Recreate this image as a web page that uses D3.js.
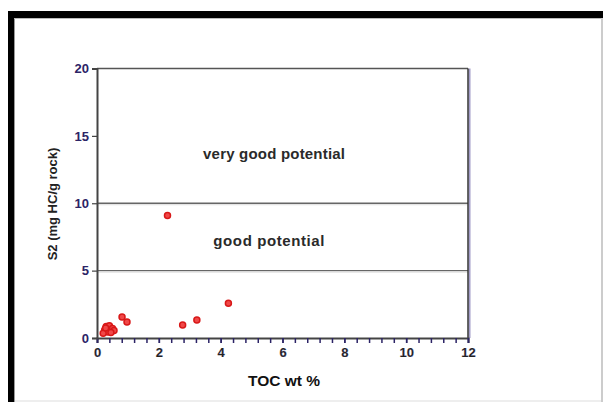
<!DOCTYPE html>
<html><head><meta charset="utf-8">
<script src="https://cdn.jsdelivr.net/npm/d3@7"></script>
<style>body{margin:0;background:#fff;}svg{display:block;}</style>
</head><body>
<svg id="c" width="603" height="402"></svg>
<script>
const tocValues = [2.28, 4.25, 3.23, 2.77, 0.81, 0.97, 0.25, 0.30, 0.40, 0.50, 0.55, 0.35, 0.20, 0.45, 0.28];
const s2Values  = [9.1, 2.57, 1.33, 0.96, 1.56, 1.19, 0.60, 0.85, 0.90, 0.70, 0.55, 0.45, 0.35, 0.40, 0.75];
const xTicks = [0, 2, 4, 6, 8, 10, 12];
const yTicks = [0, 5, 10, 15, 20];
const boundaries = [5, 10];
const zoneLabels = ["very good potential", "good potential"];
const xTitle = "TOC wt %";
const yTitle = "S2 (mg HC/g rock)";

const svg = d3.select("#c");
// outer frame
svg.append("rect").attr("x",0).attr("y",0).attr("width",603).attr("height",402).attr("fill","#fff");
svg.append("rect").attr("x",8).attr("y",11).attr("width",595).attr("height",7).attr("fill","#000");
svg.append("rect").attr("x",8).attr("y",11).attr("width",6).attr("height",391).attr("fill","#000");
svg.append("rect").attr("x",14).attr("y",18).attr("width",1).attr("height",384).attr("fill","#999");
svg.append("rect").attr("x",14).attr("y",18).attr("width",589).attr("height",1).attr("fill","#bbb");
svg.append("rect").attr("x",601).attr("y",18).attr("width",2).attr("height",384).attr("fill","#ccc");
svg.append("rect").attr("x",15).attr("y",400).attr("width",586).attr("height",2).attr("fill","#eee");

const x = d3.scaleLinear().domain([0,12]).range([97,468]);
const y = d3.scaleLinear().domain([0,20]).range([338,68.5]);
const navy = "#2c2466";
const font = "Liberation Sans, Arial, sans-serif";

// boundary lines
boundaries.forEach(b => {
  svg.append("line").attr("x1",x(0)).attr("x2",x(12)).attr("y1",y(b)).attr("y2",y(b))
    .attr("stroke","#666").attr("stroke-width",1.3);
  svg.append("line").attr("x1",x(0)).attr("x2",x(12)).attr("y1",y(b)+1.5).attr("y2",y(b)+1.5)
    .attr("stroke","#ddd").attr("stroke-width",1);
});
// top and right border
svg.append("line").attr("x1",x(0)).attr("x2",x(12)).attr("y1",y(20)).attr("y2",y(20)).attr("stroke","#555").attr("stroke-width",1.5);
svg.append("line").attr("x1",x(12)+1.5).attr("x2",x(12)+1.5).attr("y1",y(20)).attr("y2",y(0)).attr("stroke","#a29cc8").attr("stroke-width",2);
svg.append("line").attr("x1",x(12)).attr("x2",x(12)).attr("y1",y(20)).attr("y2",y(0)).attr("stroke","#333").attr("stroke-width",1.5);

// x axis
const xMinor = d3.range(0, 12.001, 0.4);
const gx = svg.append("g").attr("transform",`translate(0,${y(0)})`);
gx.call(d3.axisBottom(x).tickValues(xMinor).tickSize(5).tickFormat(""));
gx.select(".domain").attr("stroke","#444").attr("stroke-width",2);
gx.selectAll(".tick line").attr("stroke",navy).attr("stroke-width",1.5);
const gx2 = svg.append("g").attr("transform",`translate(0,${y(0)})`);
gx2.call(d3.axisBottom(x).tickValues(xTicks).tickSize(5).tickPadding(5).tickFormat(d3.format("d")));
gx2.select(".domain").remove();
gx2.selectAll(".tick line").attr("stroke",navy).attr("stroke-width",1.5);
gx2.selectAll("text").attr("fill","#222").attr("font-family",font).attr("font-size",13).attr("font-weight","bold").attr("stroke","#6a64a0").attr("stroke-width",0.2);

// y axis
const gy = svg.append("g").attr("transform",`translate(${x(0)},0)`);
gy.call(d3.axisLeft(y).tickValues(yTicks).tickSize(5).tickPadding(3).tickFormat(d3.format("d")));
gy.select(".domain").attr("stroke","#444").attr("stroke-width",2);
gy.selectAll(".tick line").attr("stroke","#444").attr("stroke-width",1.2);
gy.selectAll("text").attr("fill",navy).attr("font-family",font).attr("font-size",13).attr("font-weight","bold");

// zone labels
svg.append("text").attr("x",x(5.73)).attr("y",y(13.3)).attr("text-anchor","middle")
  .attr("font-family",font).attr("font-size",15).attr("font-weight","bold").attr("letter-spacing",0.2).attr("fill","#2a2a2a").text(zoneLabels[0]);
svg.append("text").attr("x",x(5.57)).attr("y",y(6.8)).attr("text-anchor","middle")
  .attr("font-family",font).attr("font-size",15).attr("font-weight","bold").attr("letter-spacing",0.6).attr("fill","#2a2a2a").text(zoneLabels[1]);

// titles
svg.append("text").attr("x",284).attr("y",386).attr("text-anchor","middle")
  .attr("font-family",font).attr("font-size",15.5).attr("font-weight","bold").attr("fill","#111").text(xTitle);
svg.append("text").attr("transform","translate(57,204) rotate(-90)").attr("text-anchor","middle")
  .attr("font-family",font).attr("font-size",13).attr("font-weight","bold").attr("fill","#222").text(yTitle);

// points
svg.append("g").selectAll("circle").data(tocValues.map((t,i)=>[t,s2Values[i]])).join("circle")
  .attr("cx",d=>x(d[0])).attr("cy",d=>y(d[1])).attr("r",3)
  .attr("fill","#f04848").attr("stroke","#d81818").attr("stroke-width",1.5);
</script>
</body></html>
